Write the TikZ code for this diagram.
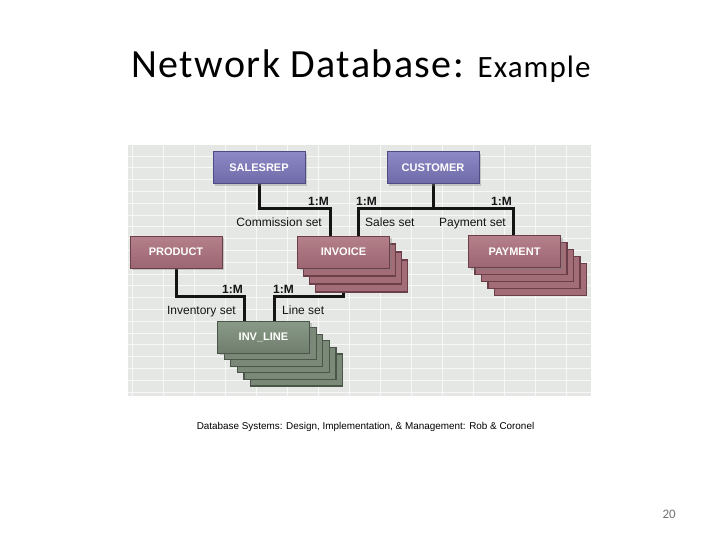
\documentclass[tikz,border=0pt]{standalone}
\usepackage{fontspec}
\setmainfont{Carlito}
\newfontfamily\diagfont{Liberation Sans}
\newfontfamily\titlefont[LetterSpace=3.5]{Carlito}
\usetikzlibrary{shadows,calc}
\definecolor{bgc}{HTML}{E5E7E4}
\definecolor{bluetop}{HTML}{8D89C6}
\definecolor{bluebot}{HTML}{6E6AA8}
\definecolor{blueedge}{HTML}{4F4C84}
\definecolor{mautop}{HTML}{B4808A}
\definecolor{maubot}{HTML}{9C6672}
\definecolor{mauedge}{HTML}{6A3F4A}
\definecolor{maucopy}{HTML}{A36D78}
\definecolor{grntop}{HTML}{8A9A88}
\definecolor{grnbot}{HTML}{707F6D}
\definecolor{grnedge}{HTML}{4A5647}
\definecolor{grncopy}{HTML}{7B8A78}
\pgfdeclarelayer{bg}
\pgfdeclarelayer{lines}
\pgfsetlayers{bg,lines,main}
\newcommand\cardstack[7]{% cx, cy, n, dx, dy, fill, edge
  \foreach \k in {#3,...,1}{%
    \draw[fill=#6, draw=#7, line width=1.2pt]
      ($(#1,#2)+(\k*#4,\k*#5)+(-46,-16)$) rectangle ++(92,32);
  }}
\begin{document}
\begin{tikzpicture}[x=1pt,y=-1pt,
  ent/.style={rectangle, minimum width=92pt, minimum height=32pt, inner sep=0pt,
    font=\diagfont\bfseries\fontsize{11}{13}\selectfont, text=white, line width=1pt,
    drop shadow={shadow xshift=2pt, shadow yshift=-2pt, opacity=0.35}},
  blueent/.style={ent, top color=bluetop, bottom color=bluebot, draw=blueedge},
  mauent/.style={ent, top color=mautop, bottom color=maubot, draw=mauedge},
  grnent/.style={ent, top color=grntop, bottom color=grnbot, draw=grnedge},
  lbl/.style={font=\diagfont\fontsize{12}{14}\selectfont, inner sep=0pt, text=black!92},
  card/.style={font=\diagfont\bfseries\fontsize{12}{14}\selectfont, inner sep=0pt, text=black!92},
  link/.style={line width=3pt, black!92}]
\useasboundingbox (0,0) rectangle (720,540);
% background of page and diagram
\begin{pgfonlayer}{bg}
\fill[white] (0,0) rectangle (720,540);
\fill[bgc] (128,145) rectangle (591,396);
\foreach \y in {156,167.8,...,395}
  \draw[white, opacity=0.7, line width=0.8pt] (128,\y) -- (591,\y);
\foreach \x in {132,163,...,591}
  \draw[white, opacity=0.7, line width=0.8pt] (\x,145) -- (\x,396);
\end{pgfonlayer}
% title
\node[anchor=base, inner sep=0pt] (title) at (361,78)
  {\titlefont\fontsize{40}{44}\selectfont Network Database: \fontsize{31}{34}\selectfont Example};
% stacks
\cardstack{343.5}{252}{3}{6}{8}{maucopy}{mauedge}
\cardstack{514.5}{251.5}{4}{6.5}{7}{maucopy}{mauedge}
\cardstack{263.5}{337}{5}{6.6}{6.6}{grncopy}{grnedge}
% entities
\node[blueent] (salesrep) at (259,168) {SALESREP};
\node[blueent] (customer) at (433,168) {CUSTOMER};
\node[mauent] (product) at (176,252) {PRODUCT};
\node[mauent] (invoice) at (343.5,252) {INVOICE};
\node[mauent] (payment) at (514.5,251.5) {PAYMENT};
\node[grnent] (invline) at (263.5,337) {INV\_LINE};
% junction coordinates
\coordinate (jcom) at (330,209);
\coordinate (jsal) at (358,209);
\coordinate (jpay) at (513,209);
\coordinate (jinv) at (244,296);
\coordinate (jlin) at (274,296);
\begin{pgfonlayer}{lines}
\draw[link] (salesrep.south) |- (jcom) -- (jcom |- invoice.north);
\draw[link] (customer.south) -- (customer.south |- jsal);
\draw[link] (jsal |- invoice.north) -- (jsal) -- (jpay) -- (jpay |- payment.north);
\draw[link] (product.south) |- (jinv) -- (jinv |- invline.north);
\draw[link] (invoice.south) |- (jlin) -- (jlin |- invline.north);
\end{pgfonlayer}
% labels
\node[card, anchor=base east] (c1) at (329,206) {1:M};
\node[lbl, anchor=base east] (s1) at (322,226) {Commission set};
\node[card, anchor=base west] (c2) at (356,206) {1:M};
\node[lbl, anchor=base west] (s2) at (365,226) {Sales set};
\node[card, anchor=base east] (c3) at (512,206) {1:M};
\node[lbl, anchor=base east] (s3) at (506,226) {Payment set};
\node[card, anchor=base east] (c4) at (243,293) {1:M};
\node[lbl, anchor=base east] (s4) at (236,314) {Inventory set};
\node[card, anchor=base west] (c5) at (273,293) {1:M};
\node[lbl, anchor=base west] (s5) at (282,314) {Line set};
% caption and page number
\node[anchor=base, inner sep=0pt, font=\diagfont\fontsize{9.9}{11}\selectfont] (caption) at (365.5,429)
  {Database Systems: Design, Implementation, \& Management: Rob \& Coronel};
\node[anchor=base east, inner sep=0pt, text=black!55, font=\fontsize{13}{15}\selectfont] (pageno) at (676,518) {20};
\end{tikzpicture}
\end{document}
